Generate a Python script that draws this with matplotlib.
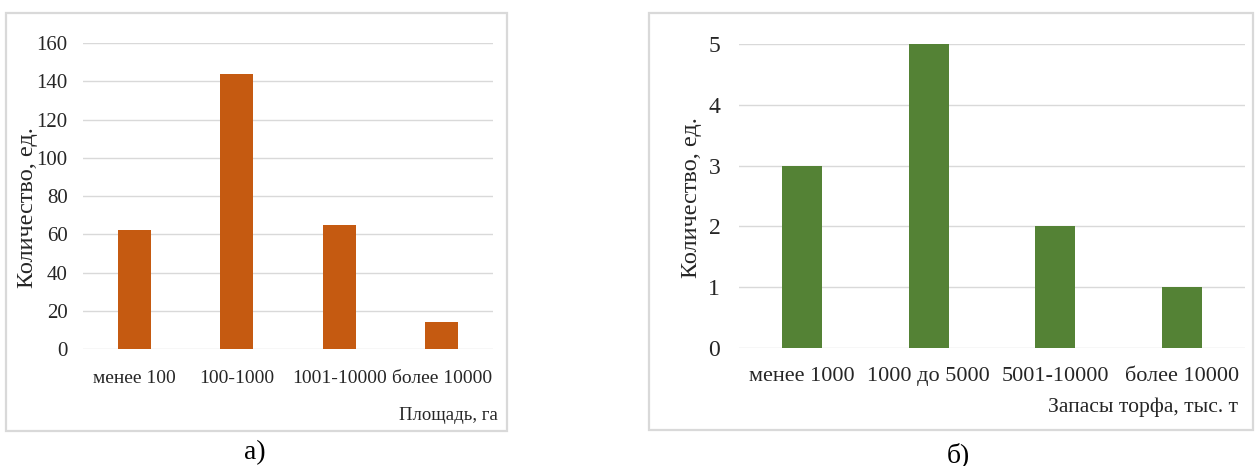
import matplotlib
matplotlib.use("Agg")
import matplotlib.pyplot as plt
from matplotlib.patches import Rectangle

# Data
area_categories = ["менее 100", "100-1000", "1001-10000", "более 10000"]
area_counts = [62, 144, 65, 14]
area_ticks = [0, 20, 40, 60, 80, 100, 120, 140, 160]

stock_categories = ["менее 1000", "1000 до 5000", "5001-10000", "более 10000"]
stock_counts = [3, 5, 2, 1]
stock_ticks = [0, 1, 2, 3, 4, 5]

W, H = 1255, 466
plt.rcParams["font.family"] = ["Liberation Serif", "DejaVu Serif"]

fig = plt.figure(figsize=(W / 100, H / 100), dpi=100)
fig.patch.set_facecolor("white")

TEXT = "#262626"


def fx(x):
    return x / W


def fy(y):
    return 1 - y / H


def axes_px(x0, y0, x1, y1):
    return fig.add_axes([fx(x0), fy(y1), (x1 - x0) / W, (y1 - y0) / H])


def frame(x0, y0, x1, y1):
    fig.patches.append(Rectangle((fx(x0), fy(y1)), (x1 - x0) / W, (y1 - y0) / H,
                                 transform=fig.transFigure, fill=False,
                                 edgecolor="#D9D9D9", linewidth=1.6))


def bar_panel(ax, cats, vals, ticks, color, ypad, xsize, ysize, xpad):
    x = range(len(cats))
    ax.set_axisbelow(True)
    for t in ticks:
        ax.axhline(t, color="#D9D9D9", linewidth=1.0, zorder=0)
    ax.bar(x, vals, width=0.32, color=color, zorder=2)
    ax.set_xlim(-0.5, len(cats) - 0.5)
    ax.set_ylim(ticks[0], ticks[-1])
    ax.set_yticks(ticks)
    ax.set_xticks(list(x))
    ax.set_xticklabels(cats)
    for s in ax.spines.values():
        s.set_visible(False)
    ax.tick_params(axis="both", length=0, colors=TEXT)
    ax.tick_params(axis="y", pad=ypad, labelsize=ysize)
    ax.tick_params(axis="x", pad=xpad, labelsize=xsize)
    ax.set_facecolor("none")


# Panel а)
frame(6, 13, 507, 431)
ax1 = axes_px(83, 43, 493, 349)
bar_panel(ax1, area_categories, area_counts, area_ticks, "#C55A11",
          ypad=11, xsize=14, ysize=15, xpad=15)
fig.text(fx(28), fy(208), "Количество, ед.", rotation=90, ha="center", va="center",
         fontsize=17.5, color=TEXT)
fig.text(fx(498), fy(415), "Площадь, га", ha="right", va="center",
         fontsize=13.5, color=TEXT)
fig.text(fx(255), fy(453), "а)", ha="center", va="center", fontsize=20, color="black")

# Panel б)
frame(649, 13, 1253, 430)
ax2 = axes_px(739, 44, 1245, 348)
bar_panel(ax2, stock_categories, stock_counts, stock_ticks, "#548235",
          ypad=13.5, xsize=16, ysize=17, xpad=14)
fig.text(fx(692), fy(198), "Количество, ед.", rotation=90, ha="center", va="center",
         fontsize=17.5, color=TEXT)
fig.text(fx(1238), fy(407), "Запасы торфа, тыс. т", ha="right", va="center",
         fontsize=15.6, color=TEXT)
fig.text(fx(958), fy(455), "б)", ha="center", va="center", fontsize=20, color="black")

fig.savefig("out.png", dpi=100)
